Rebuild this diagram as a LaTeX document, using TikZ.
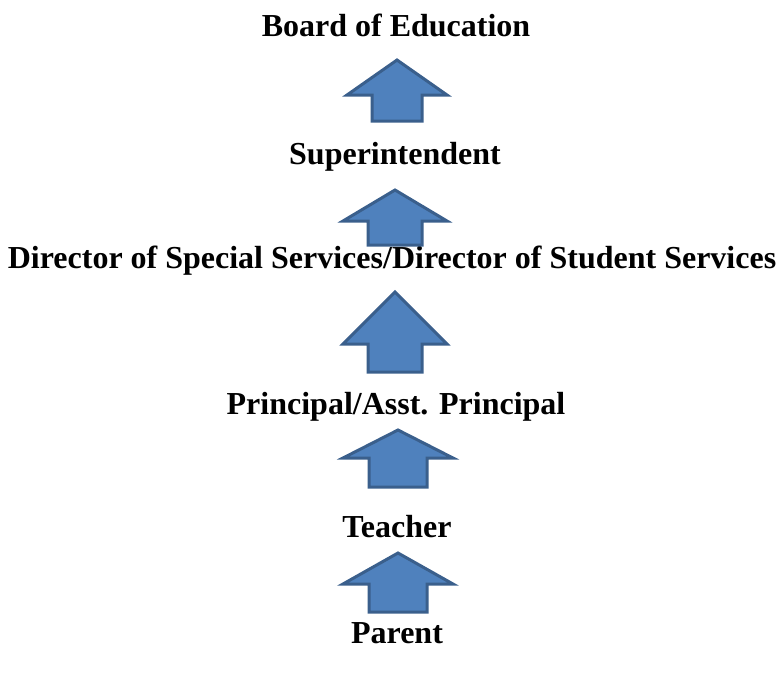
\documentclass[tikz,border=0pt]{standalone}
\usepackage{fontspec}
\setmainfont{Liberation Serif}
\usepackage{tikz}

\definecolor{arrfill}{HTML}{4F81BD}
\definecolor{arrline}{HTML}{3A5F8C}

\tikzset{
  label/.style={font=\bfseries\fontsize{32}{38}\selectfont, anchor=base, inner sep=0pt},
  uparr/.style={fill=arrfill, draw=arrline, line width=3pt, line join=miter}
}

\begin{document}
\begin{tikzpicture}[x=1pt,y=-1pt]
\useasboundingbox (0,0) rectangle (782,673);
\node[label] (board) at (396,36) {Board of Education};
\node[label] (super) at (395,164) {Superintendent};
\node[label] (dir) at (392,268) {Director of Special Services/Director of Student Services};
\node[label] (prin) at (396,414) {Principal/Asst. Principal};
\node[label] (teach) at (397,537) {Teacher};
\node[label] (parent) at (397,643) {Parent};
\draw[uparr] (397,60) -- (447,95) -- (422,95) -- (422,121) -- (372,121) -- (372,95) -- (347,95) -- cycle;
\draw[uparr] (395,190) -- (447,221) -- (422,221) -- (422,245) -- (368,245) -- (368,221) -- (343,221) -- cycle;
\draw[uparr] (395,292) -- (447,344) -- (422,344) -- (422,372) -- (368,372) -- (368,344) -- (343,344) -- cycle;
\draw[uparr] (398,430) -- (453,458) -- (427,458) -- (427,487) -- (369,487) -- (369,458) -- (343,458) -- cycle;
\draw[uparr] (398,553) -- (453,584) -- (427,584) -- (427,612) -- (369,612) -- (369,584) -- (343,584) -- cycle;
\end{tikzpicture}
\end{document}
